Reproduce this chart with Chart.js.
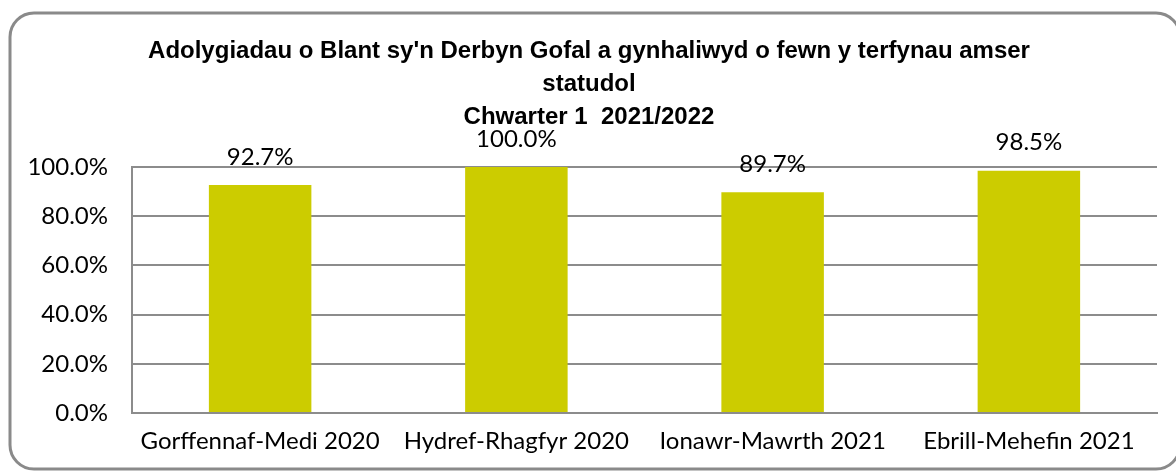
<!DOCTYPE html>
<html>
<head>
<meta charset="utf-8">
<script src="https://cdn.jsdelivr.net/npm/chart.js@4.4.1/dist/chart.umd.min.js"></script>
<style>
    html, body { margin: 0; padding: 0; background: #fff; }
    #wrap { width: 1176px; height: 471px; }
</style>
</head>
<body>
<div id="wrap"><canvas id="reviewChart" width="1176" height="471"></canvas></div>
<script>
// Chart data
const titleLines = ["Adolygiadau o Blant sy'n Derbyn Gofal a gynhaliwyd o fewn y terfynau amser", "statudol", "Chwarter 1  2021/2022"];
const quarters = ['Gorffennaf-Medi 2020', 'Hydref-Rhagfyr 2020', 'Ionawr-Mawrth 2021', 'Ebrill-Mehefin 2021'];
const percentWithinTime = [92.7, 100.0, 89.7, 98.5];
const yTicks = [0, 20, 40, 60, 80, 100];

const barColour = '#cccc00';
const gridColour = '#8c8c8c';
const labelFont = { family: 'Lato', size: 24 };

// White background + rounded frame
const framePlugin = {
    id: 'frame',
    beforeDraw(chart) {
        const ctx = chart.ctx;
        ctx.save();
        ctx.fillStyle = '#fff';
        ctx.fillRect(0, 0, chart.width, chart.height);
        ctx.strokeStyle = '#8a8a8a';
        ctx.lineWidth = 3;
        ctx.beginPath();
        ctx.roundRect(10, 13, 1170, 456, 24);
        ctx.stroke();
        ctx.restore();
    }
};

// Value labels above bars
const valueLabels = {
    id: 'valueLabels',
    afterDatasetsDraw(chart) {
        const ctx = chart.ctx;
        const meta = chart.getDatasetMeta(0);
        ctx.save();
        ctx.font = `${labelFont.size}px ${labelFont.family}`;
        ctx.fillStyle = '#000';
        ctx.textAlign = 'center';
        ctx.textBaseline = 'middle';
        meta.data.forEach((bar, i) => {
            ctx.fillText(percentWithinTime[i].toFixed(1) + '%', bar.x, bar.y - 28);
        });
        ctx.restore();
    }
};

new Chart(document.getElementById('reviewChart'), {
    type: 'bar',
    data: {
        labels: quarters,
        datasets: [{
            data: percentWithinTime,
            backgroundColor: barColour,
            borderWidth: 0,
            categoryPercentage: 1,
            barPercentage: 0.4
        }]
    },
    options: {
        responsive: false,
        animation: false,
        events: [],
        layout: { padding: { top: 14, left: 21, right: 19, bottom: 0 } },
        plugins: {
            legend: { display: false },
            tooltip: { enabled: false },
            title: {
                display: true,
                text: titleLines,
                color: '#000',
                font: { family: 'Liberation Sans', size: 24, weight: 'bold', lineHeight: 1.375 },
                padding: { top: 21, bottom: 33 }
            }
        },
        scales: {
            x: {
                grid: { display: false, drawTicks: false },
                border: { display: true, color: gridColour, width: 2 },
                ticks: { color: '#000', font: labelFont, padding: 14, maxRotation: 0 },
                afterFit(scale) { scale.height = 58; }
            },
            y: {
                min: 0,
                max: 100,
                afterBuildTicks(scale) { scale.ticks = yTicks.map(v => ({ value: v })); },
                grid: { color: gridColour, lineWidth: 2, drawTicks: false },
                border: { display: true, color: gridColour, width: 2 },
                ticks: {
                    color: '#000',
                    font: labelFont,
                    padding: 24,
                    callback: v => v.toFixed(1) + '%'
                },
                afterFit(scale) { scale.width = 111; }
            }
        }
    },
    plugins: [framePlugin, valueLabels]
});
</script>
</body>
</html>
